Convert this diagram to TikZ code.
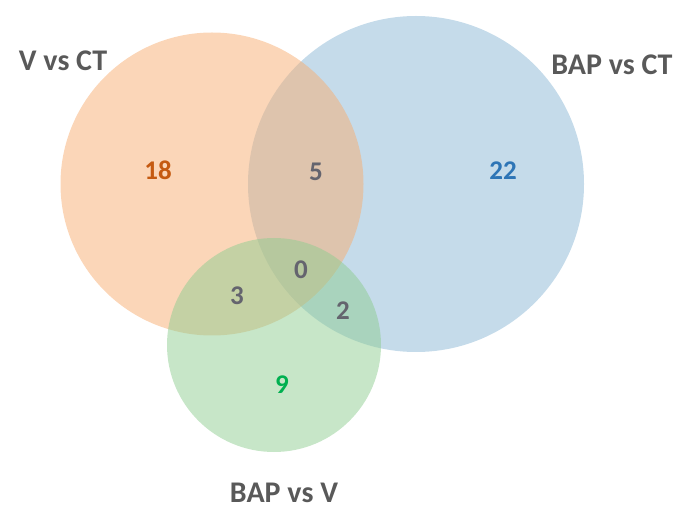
\documentclass[tikz,border=0pt]{standalone}
\usepackage{fontspec}
\setmainfont{Carlito}
\definecolor{vctfill}{RGB}{247,173,113}
\definecolor{bctfill}{RGB}{139,183,213}
\definecolor{bvfill}{RGB}{143,205,145}
\definecolor{labelgray}{RGB}{89,89,89}
\definecolor{numgray}{RGB}{100,100,110}
\definecolor{vctnum}{RGB}{197,90,17}
\definecolor{bctnum}{RGB}{46,117,182}
\definecolor{bvnum}{RGB}{0,176,80}
\begin{document}
\begin{tikzpicture}[x=1pt,y=-1pt]
        \useasboundingbox (0,0) rectangle (677,510);
        \begin{scope}[every node/.style={circle,inner sep=0pt,fill opacity=0.5}]
            \node (bct) [fill=bctfill, minimum size=336pt] at (416,184) {};
            \node (vct) [fill=vctfill, minimum size=303pt] at (212,184) {};
            \node (bv) [fill=bvfill, minimum size=214pt] at (274,345) {};
        \end{scope}
        \begin{scope}[every node/.style={font=\bfseries\fontsize{30}{36}\selectfont,text=labelgray,inner sep=1pt}]
            \node (vctlabel) at (63,61) {V vs CT};
            \node (bctlabel) at (612,65) {BAP vs CT};
            \node (bvlabel) at (284,493) {BAP vs V};
        \end{scope}
        \begin{scope}[every node/.style={font=\bfseries\fontsize{27}{31}\selectfont,text=numgray}]
            \node (only-vct) [text=vctnum] at (158,170) {18};
            \node (only-bct) [text=bctnum] at (503,171) {22};
            \node (only-bv) [text=bvnum] at (282,385) {9};
            \node (vct-bct) at (316,172) {5};
            \node (vct-bv) at (237,296) {3};
            \node (bct-bv) at (343,311) {2};
            \node (all) at (301,270) {0};
        \end{scope}
    \end{tikzpicture}
\end{document}
